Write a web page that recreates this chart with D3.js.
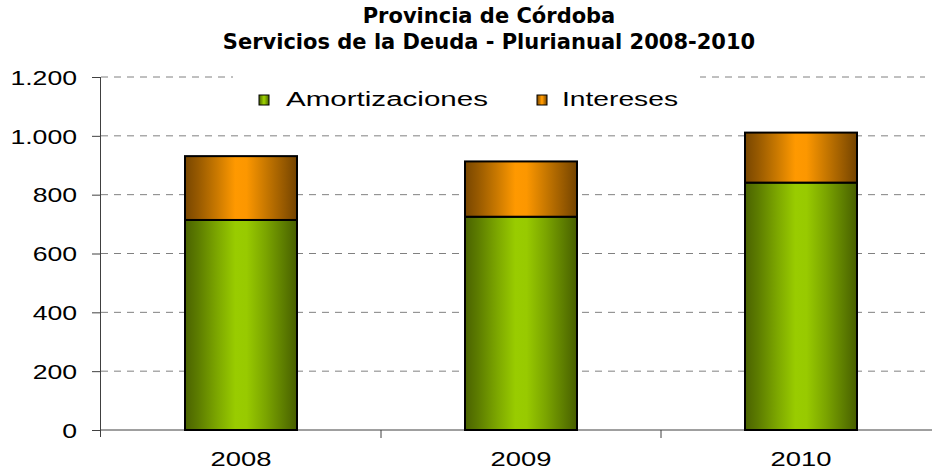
<!DOCTYPE html>
<html lang="es">

<head>
    <meta charset="UTF-8">
    <title>Servicios de la Deuda</title>
    <style>
        body { margin: 0; background: #fff; }
        svg { display: block; }
    </style>
</head>

<body>
    <svg id="chart" width="932" height="470"></svg>

    <script src="https://d3js.org/d3.v7.min.js"></script>
    <script>
        // data (millones de $)
        const years = ["2008", "2009", "2010"];
        const amortizaciones = [714, 725, 841];
        const intereses = [217, 188, 170];
        const seriesNames = ["Amortizaciones", "Intereses"];
        const yTicks = [0, 200, 400, 600, 800, 1000, 1200];
        const titleLines = ["Provincia de Córdoba", "Servicios de la Deuda - Plurianual 2008-2010"];

        const svg = d3.select("#chart");
        const fmt = d3.formatLocale({ decimal: ",", thousands: ".", grouping: [3], currency: ["$", ""] }).format(",d");

        const x = d3.scaleBand().domain(years).range([101, 941]);
        const y = d3.scaleLinear().domain([0, 1200]).range([430, 77]);
        const barW = x.bandwidth() * 0.4;

        // stretch helper - the original text is wider than the fonts we have
        function stretch(sel, k) {
            sel.each(function () {
                const w = this.getComputedTextLength();
                d3.select(this).attr("textLength", w * k).attr("lengthAdjust", "spacingAndGlyphs");
            });
        }

        // gradients
        const defs = svg.append("defs");
        const grads = {
            green: [[0, "#4a6200"], [0.12, "#5d7d00"], [0.28, "#7ba500"], [0.45, "#99cc00"], [0.55, "#98ca00"], [0.72, "#7ba500"], [0.88, "#5d7d00"], [1, "#475e00"]],
            orange: [[0, "#784600"], [0.12, "#985a00"], [0.28, "#c87800"], [0.45, "#ff9900"], [0.55, "#fc9700"], [0.72, "#c87800"], [0.88, "#985a00"], [1, "#734300"]]
        };
        Object.entries(grads).forEach(([id, stops]) => {
            const g = defs.append("linearGradient").attr("id", id)
                .attr("x1", "0%").attr("x2", "100%").attr("y1", "0%").attr("y2", "0%");
            stops.forEach(s => g.append("stop").attr("offset", s[0]).attr("stop-color", s[1]));
        });
        const fills = ["url(#green)", "url(#orange)"];

        // gridlines
        svg.append("g")
            .selectAll("line")
            .data(yTicks.filter(d => d > 0))
            .join("line")
            .attr("x1", 101).attr("x2", 925)
            .attr("y1", d => y(d)).attr("y2", d => y(d))
            .attr("stroke", "#808080")
            .attr("stroke-dasharray", "7,6");

        // y axis
        const yAxis = svg.append("g")
            .attr("transform", "translate(101,0)")
            .call(d3.axisLeft(y).tickValues(yTicks).tickSize(9).tickPadding(5).tickFormat(fmt));
        yAxis.select(".domain").attr("stroke", "#404040").attr("d", "M-0.5,77V437");
        yAxis.selectAll(".tick line").attr("stroke", "#404040");
        yAxis.selectAll("text")
            .attr("font-family", "Liberation Sans, Arial, sans-serif")
            .attr("font-size", 20)
            .attr("fill", "#000")
            .attr("x", -24)
            .attr("dy", "0.36em")
            .call(stretch, 1.33);

        // x axis baseline + tick marks at band edges
        svg.append("line")
            .attr("x1", 101).attr("x2", 932)
            .attr("y1", y(0)).attr("y2", y(0))
            .attr("stroke", "#404040");
        svg.append("g")
            .selectAll("line")
            .data(years.slice(1))
            .join("line")
            .attr("x1", d => x(d)).attr("x2", d => x(d))
            .attr("y1", y(0)).attr("y2", y(0) + 8)
            .attr("stroke", "#404040");
        svg.append("g")
            .selectAll("text")
            .data(years)
            .join("text")
            .attr("x", d => x(d) + x.bandwidth() / 2)
            .attr("y", 466)
            .attr("text-anchor", "middle")
            .attr("font-family", "Liberation Sans, Arial, sans-serif")
            .attr("font-size", 20)
            .text(d => d)
            .call(stretch, 1.37);

        // stacked bars
        const stackData = years.map((yr, i) => ({ year: yr, Amortizaciones: amortizaciones[i], Intereses: intereses[i] }));
        const stacked = d3.stack().keys(seriesNames)(stackData);
        svg.append("g")
            .selectAll("g")
            .data(stacked)
            .join("g")
            .attr("fill", (d, i) => fills[i])
            .selectAll("rect")
            .data(d => d)
            .join("rect")
            .attr("x", d => x(d.data.year) + (x.bandwidth() - barW) / 2)
            .attr("width", barW)
            .attr("y", d => y(d[1]))
            .attr("height", d => y(d[0]) - y(d[1]))
            .attr("stroke", "#000")
            .attr("stroke-width", 2);

        // legend (white box hides the top gridline)
        const legend = svg.append("g");
        legend.append("rect")
            .attr("x", 233).attr("y", 66).attr("width", 467).attr("height", 56)
            .attr("fill", "#fff");
        const legendPos = [{ sx: 259, tx: 286, tl: 202 }, { sx: 537, tx: 562, tl: 116 }];
        seriesNames.forEach((name, i) => {
            legend.append("rect")
                .attr("x", legendPos[i].sx).attr("y", 95)
                .attr("width", 10).attr("height", 10)
                .attr("fill", fills[i])
                .attr("stroke", "#000").attr("stroke-width", 1);
            legend.append("text")
                .attr("x", legendPos[i].tx).attr("y", 106)
                .attr("font-family", "Liberation Sans, Arial, sans-serif")
                .attr("font-size", 20)
                .attr("textLength", legendPos[i].tl)
                .attr("lengthAdjust", "spacingAndGlyphs")
                .text(name);
        });

        // title
        svg.append("g")
            .selectAll("text")
            .data(titleLines)
            .join("text")
            .attr("x", 489)
            .attr("y", (d, i) => 23 + i * 26)
            .attr("text-anchor", "middle")
            .attr("font-family", "DejaVu Sans, Verdana, sans-serif")
            .attr("font-weight", "bold")
            .attr("font-size", 21)
            .text(d => d);
    </script>
</body>

</html>
